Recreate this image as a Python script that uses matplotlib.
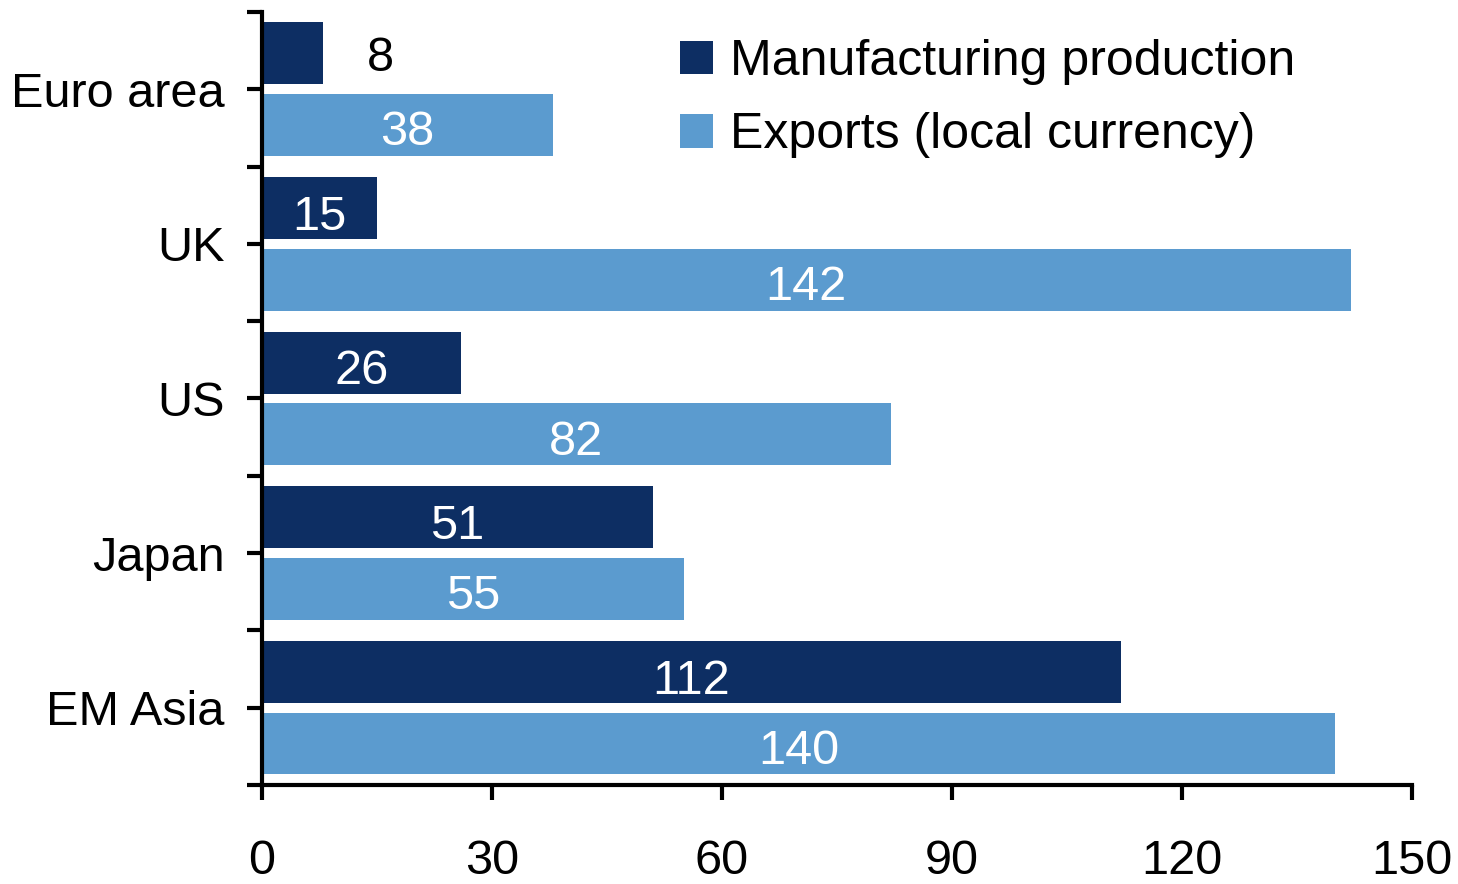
import matplotlib
matplotlib.use("Agg")
import matplotlib.pyplot as plt
from matplotlib.ticker import MultipleLocator
import numpy as np

plt.rcParams['font.family'] = ['Liberation Sans', 'DejaVu Sans']

regions = ['Euro area', 'UK', 'US', 'Japan', 'EM Asia']
manufacturing = [8, 15, 26, 51, 112]
exports = [38, 142, 82, 55, 140]

dark = '#0d2e63'
light = '#5b9bcf'

fig = plt.figure(figsize=(14.58, 8.84), dpi=100)
ax = fig.add_axes([0.1797, 0.112, 0.7887, 0.8745])

y = np.arange(len(regions))
h = 0.4
off = 0.232
ax.barh(y - off, manufacturing, height=h, color=dark, label='Manufacturing production')
ax.barh(y + off, exports, height=h, color=light, label='Exports (local currency)')

fs = 35
for i in range(len(regions)):
    m = manufacturing[i]
    if m < 12:
        ax.text(m + 7.5, y[i] - off + 0.03, str(m), ha='center', va='center', color='black', fontsize=fs)
    else:
        ax.text(m / 2, y[i] - off + 0.06, str(m), ha='center', va='center', color='white', fontsize=fs)
    e = exports[i]
    ax.text(e / 2, y[i] + off + 0.05, str(e), ha='center', va='center', color='white', fontsize=fs)

ax.set_xlim(0, 150)
ax.set_ylim(4.5, -0.5)
ax.xaxis.set_major_locator(MultipleLocator(30))
ax.set_yticks(y)
ax.set_yticklabels(regions)
ax.yaxis.set_minor_locator(MultipleLocator(0.5))

for s in ['top', 'right']:
    ax.spines[s].set_visible(False)
for s in ['left', 'bottom']:
    ax.spines[s].set_linewidth(3)

ax.tick_params(axis='y', which='both', length=11, width=3, direction='out', labelsize=fs, pad=16)
ax.tick_params(axis='x', length=11, width=3, direction='out', labelsize=fs, pad=28)

ax.legend(loc='upper left', bbox_to_anchor=(0.3635, 0.965), frameon=False, fontsize=36,
          handlelength=0.65, handleheight=0.65, handletextpad=0.35, labelspacing=0.55,
          borderpad=0, borderaxespad=0)

fig.savefig('out.png', dpi=100)
